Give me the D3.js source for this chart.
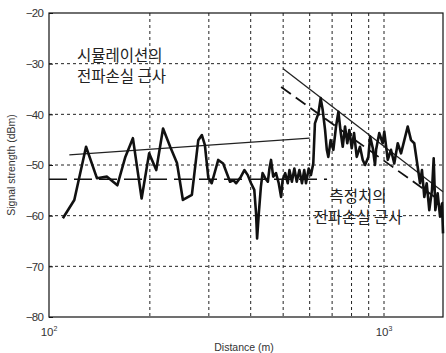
<!DOCTYPE html>
<html>
<head>
<meta charset="utf-8">
<script src="https://cdn.jsdelivr.net/npm/d3@7"></script>
<style>
  body { margin: 0; background: #fff; }
  svg text { font-family: "Liberation Sans", Arial, sans-serif; }
  .kr { font-family: "Noto Sans CJK KR", sans-serif; }
</style>
</head>
<body>
<svg id="chart" width="446" height="353"></svg>
<script>
// measured signal (distance in m, strength in dBm)
const distance = [110, 119, 129, 139, 149, 160, 169, 178, 189, 199, 209, 219, 230, 241, 251, 267, 279, 286, 292, 299,
  306, 320, 331, 347, 355, 362, 374, 383, 392, 401, 410, 415, 418, 423, 429, 434, 442, 450, 455, 460,
  467, 476, 485, 493, 498, 507, 516, 522, 531, 540, 549, 559, 569, 578, 585, 596, 605, 615, 622, 637,
  647, 656, 667, 675, 682, 693, 706, 719, 731, 743, 753, 765, 777, 788, 801, 814, 829, 848, 864, 878,
  898, 909, 926, 940, 947, 968, 991, 1002, 1026, 1049, 1073, 1099, 1124, 1150, 1177, 1204, 1231, 1260, 1281, 1298,
  1319, 1341, 1365, 1391, 1407, 1423, 1446, 1470, 1490, 1500];
const strength = [-60.5, -56.9, -46.4, -52.6, -52.3, -54.0, -48.4, -44.7, -56.6, -47.7, -51.0, -42.8, -46.4, -49.6, -56.9, -55.9, -45.1, -44.1, -46.1, -52.6,
  -53.6, -49.0, -49.7, -53.3, -53.0, -53.6, -52.3, -51.0, -52.0, -53.6, -54.9, -59.5, -64.5, -59.5, -54.3, -51.6, -52.6, -53.3, -50.7, -49.0,
  -52.3, -51.6, -53.6, -56.3, -53.0, -51.6, -53.6, -51.0, -53.3, -50.7, -53.3, -51.0, -53.6, -51.0, -53.6, -50.7, -52.0, -49.7, -41.8, -39.8,
  -36.8, -39.1, -43.1, -47.0, -48.4, -45.1, -47.0, -42.4, -39.5, -43.7, -46.4, -42.4, -45.7, -43.1, -46.7, -43.7, -48.4, -46.4, -49.0, -50.0,
  -48.4, -44.4, -46.7, -50.0, -47.0, -43.7, -45.7, -43.4, -49.0, -47.0, -49.7, -45.7, -47.7, -45.1, -42.4, -45.1, -45.7, -50.3, -53.6, -51.0,
  -56.3, -53.6, -58.9, -54.9, -48.7, -58.9, -55.6, -60.2, -57.6, -63.5];

// fitted path-loss lines
const simFitDist = [115, 600];
const simFitVal = [-48.0, -44.7];
const simMeanDist = [100, 676];
const simMeanVal = [-52.8, -52.8];
const measFitDist = [500, 1500];
const measFitVal = [-31.0, -55.3];
const measFitDashDist = [493, 1500];
const measFitDashVal = [-34.6, -57.5];

const yTicks = [-20, -30, -40, -50, -60, -70, -80];
const xGrid = [200, 300, 400, 500, 600, 700, 800, 900, 1000];
const xLabels = [100, 1000];

const margin = { top: 13, right: 3, bottom: 36, left: 49 };
const width = 446 - margin.left - margin.right;
const height = 353 - margin.top - margin.bottom;

const svg = d3.select("#chart");
const g = svg.append("g")
  .attr("transform", "translate(" + margin.left + "," + margin.top + ")");

const x = d3.scaleLog().domain([100, 1500]).range([0, width]);
const y = d3.scaleLinear().domain([-80, -20]).range([height, 0]);

// grid
g.selectAll(".vgrid").data(xGrid).join("line")
  .attr("x1", d => x(d)).attr("x2", d => x(d))
  .attr("y1", 0).attr("y2", height)
  .attr("stroke", "#222").attr("stroke-width", 1).attr("stroke-dasharray", "3,3");
g.selectAll(".hgrid").data(yTicks.slice(1, -1)).join("line")
  .attr("x1", 0).attr("x2", width)
  .attr("y1", d => y(d)).attr("y2", d => y(d))
  .attr("stroke", "#222").attr("stroke-width", 1).attr("stroke-dasharray", "3,3");

// frame
g.append("rect")
  .attr("width", width).attr("height", height)
  .attr("fill", "none").attr("stroke", "#111").attr("stroke-width", 1.2);

// y axis labels
const yAxis = g.append("g")
  .call(d3.axisLeft(y).tickValues(yTicks).tickSize(-4).tickPadding(6).tickFormat(d3.format("d")));
yAxis.select(".domain").remove();
yAxis.selectAll("line").attr("stroke", "#111");
yAxis.selectAll("text").attr("font-size", 11.5).attr("fill", "#333")
  .style("font-family", "Liberation Sans, Arial, sans-serif").style("letter-spacing", "-0.8px");

// x axis labels (10^n)
const xl = g.selectAll(".xlab").data(xLabels).join("text")
  .attr("x", d => x(d)).attr("y", height + 19)
  .attr("text-anchor", "middle").attr("font-size", 11.5).attr("fill", "#333");
xl.append("tspan").text("10");
xl.append("tspan").attr("dy", -5).attr("font-size", 7).text(d => Math.round(Math.log10(d)));

// axis titles
svg.append("text")
  .attr("transform", "translate(15," + (margin.top + height / 2) + ") rotate(-90)")
  .attr("text-anchor", "middle").attr("font-size", 10.5).attr("fill", "#333")
  .text("Signal strength (dBm)");
svg.append("text")
  .attr("x", margin.left + width / 2 - 2).attr("y", 351)
  .attr("text-anchor", "middle").attr("font-size", 10.5).attr("fill", "#333")
  .text("Distance (m)");

const line = d3.line().x(d => x(d[0])).y(d => y(d[1]));

// fit lines
g.append("path").datum(d3.zip(simFitDist, simFitVal))
  .attr("d", line).attr("fill", "none").attr("stroke", "#222").attr("stroke-width", 1.3);
g.append("path").datum(d3.zip(simMeanDist, simMeanVal))
  .attr("d", line).attr("fill", "none").attr("stroke", "#111").attr("stroke-width", 1.6)
  .attr("stroke-dasharray", "18,7");
g.append("path").datum(d3.zip(measFitDist, measFitVal))
  .attr("d", line).attr("fill", "none").attr("stroke", "#222").attr("stroke-width", 1.3);
g.append("path").datum(d3.zip(measFitDashDist, measFitDashVal))
  .attr("d", line).attr("fill", "none").attr("stroke", "#111").attr("stroke-width", 1.8)
  .attr("stroke-dasharray", "12,6");

// measured signal
g.append("path").datum(d3.zip(distance, strength))
  .attr("d", line).attr("fill", "none").attr("stroke", "#111")
  .attr("stroke-width", 2.6).attr("stroke-linejoin", "round");

// annotations
const notes = [
  { x: 77, y: 61, lines: ["시뮬레이션의", "전파손실 근사"], anchor: "start" },
  { x: 358, y: 202, lines: ["측정치의", "전파손실 근사"], anchor: "middle" }
];
notes.forEach(n => {
  const t = svg.append("text").attr("class", "kr")
    .attr("x", n.x).attr("y", n.y)
    .attr("text-anchor", n.anchor).attr("font-size", 15.5).attr("fill", "#222");
  n.lines.forEach((s, i) => {
    t.append("tspan").attr("x", n.x).attr("dy", i === 0 ? 0 : 21).text(s);
  });
});
</script>
</body>
</html>
